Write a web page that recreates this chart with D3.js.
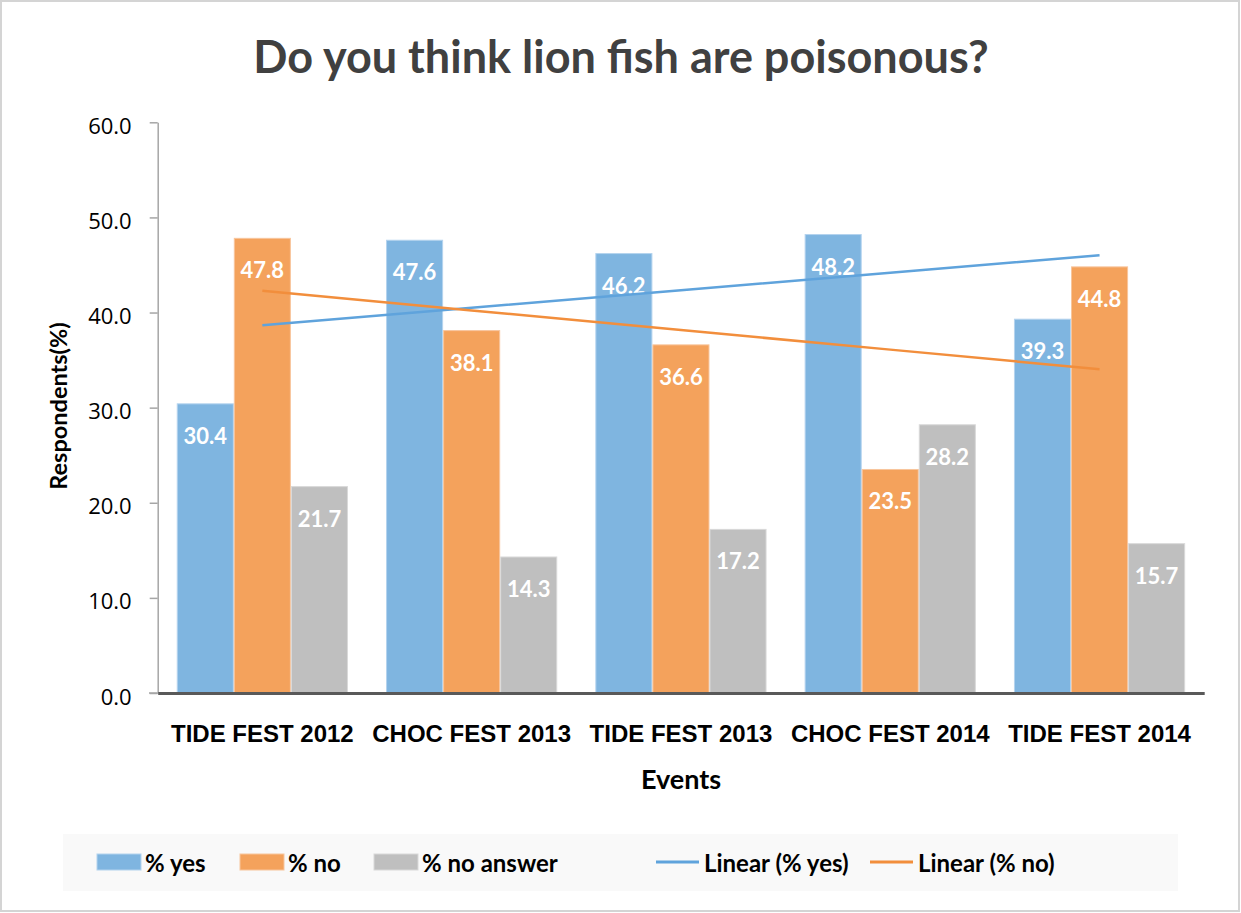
<!DOCTYPE html>
<html><head><meta charset="utf-8">
<script src="https://cdn.jsdelivr.net/npm/d3@7"></script>
<style>
html,body{margin:0;padding:0;background:#fff;}
svg{display:block;font-family:Lato,"Open Sans",sans-serif;}
</style></head>
<body>
<svg id="chart" width="1241" height="913"></svg>
<script>
const categories = ["TIDE FEST 2012","CHOC FEST 2013","TIDE FEST 2013","CHOC FEST 2014","TIDE FEST 2014"];
const yesValues = [30.4, 47.6, 46.2, 48.2, 39.3];
const noValues = [47.8, 38.1, 36.6, 23.5, 44.8];
const noAnswerValues = [21.7, 14.3, 17.2, 28.2, 15.7];
const seriesNames = ["% yes","% no","% no answer"];
const yTicks = [0,10,20,30,40,50,60];

const colors = {"% yes":"#7fb5e0","% no":"#f4a25c","% no answer":"#bfbfbf"};
const strokes = {"% yes":"#b4d3ee","% no":"#f8c59c","% no answer":"#d9d9d9"};
const trendColors = {"% yes":"#5fa3dc","% no":"#f28e3c"};

const svg = d3.select("#chart");
svg.append("rect").attr("x",1).attr("y",1).attr("width",1238).attr("height",910)
  .attr("fill","#fff").attr("stroke","#d4d4d4").attr("stroke-width",2);

const plotLeft=157.7, plotRight=1204.2, plotTop=122.3, plotBottom=693;
const x = d3.scaleBand().domain(categories).range([plotLeft,plotRight]).paddingInner(0.182).paddingOuter(0.091);
const xs = d3.scaleBand().domain(seriesNames).range([0,x.bandwidth()]).padding(0);
const y = d3.scaleLinear().domain([0,60]).range([plotBottom,plotTop]);

svg.append("text").attr("x",621).attr("y",73).attr("text-anchor","middle")
  .attr("font-size",45).attr("font-weight","bold").attr("fill","#404040")
  .text("Do you think lion fish are poisonous?");

const yAxis = d3.axisLeft(y).tickValues(yTicks).tickFormat(d3.format(".1f")).tickSize(8).tickSizeOuter(0);
const gy = svg.append("g").attr("transform",`translate(${plotLeft},0)`).call(yAxis);
gy.select(".domain").attr("stroke","#a6a6a6").attr("stroke-width",1.5);
gy.selectAll(".tick line").attr("stroke","#a6a6a6").attr("stroke-width",1.5);
gy.selectAll(".tick text").attr("font-size",22).attr("fill","#000").attr("x",-26).attr("dy","0.5em")
  .attr("font-family","'Open Sans',Lato,sans-serif");

const data = categories.map((c,i)=>({cat:c, vals:[
  {s:"% yes",v:yesValues[i]},{s:"% no",v:noValues[i]},{s:"% no answer",v:noAnswerValues[i]}]}));

const groups = svg.append("g").selectAll("g").data(data).join("g")
  .attr("transform",d=>`translate(${x(d.cat)},0)`);
groups.selectAll("rect").data(d=>d.vals).join("rect")
  .attr("x",d=>xs(d.s)+0.5).attr("width",xs.bandwidth()-1)
  .attr("y",d=>y(d.v)).attr("height",d=>y(0)-y(d.v))
  .attr("fill",d=>colors[d.s]).attr("stroke",d=>strokes[d.s]).attr("stroke-width",1);
groups.selectAll("text").data(d=>d.vals).join("text")
  .attr("x",d=>xs(d.s)+xs.bandwidth()/2).attr("y",d=>y(d.v)+40)
  .attr("text-anchor","middle").attr("font-size",22).attr("font-weight","bold").attr("fill","#fff")
  .text(d=>d3.format(".1f")(d.v));

const xAxis = d3.axisBottom(x).tickSize(0).tickSizeOuter(0);
const gx = svg.append("g").attr("transform",`translate(0,${plotBottom})`).call(xAxis);
gx.select(".domain").attr("stroke","#595959").attr("stroke-width",3);
gx.selectAll(".tick text").attr("font-size",24).attr("font-weight","bold").attr("fill","#000").attr("dy",0).attr("y",49);
svg.append("line").attr("x1",149).attr("x2",plotLeft).attr("y1",plotBottom).attr("y2",plotBottom).attr("stroke","#a6a6a6").attr("stroke-width",1.5);

function linFit(vals){
  const xsN=vals.map((_,i)=>i+1);
  const mx=d3.mean(xsN), my=d3.mean(vals);
  const b=d3.sum(xsN.map((xi,i)=>(xi-mx)*(vals[i]-my)))/d3.sum(xsN.map(xi=>(xi-mx)**2));
  return xsN.map(xi=>my+b*(xi-mx));
}
const line = d3.line().x((d,i)=>x(categories[i])+x.bandwidth()/2).y(d=>y(d));
[["% yes",yesValues],["% no",noValues]].forEach(([s,vals])=>{
  svg.append("path").attr("d",line(linFit(vals))).attr("fill","none")
    .attr("stroke",trendColors[s]).attr("stroke-width",2.5);
});

svg.append("text").attr("transform","translate(67,406) rotate(-90)").attr("text-anchor","middle")
  .attr("font-size",23.5).attr("font-weight","bold").attr("fill","#000").text("Respondents(%)");
svg.append("text").attr("x",681).attr("y",789).attr("text-anchor","middle")
  .attr("font-size",27).attr("font-weight","bold").attr("fill","#000").text("Events");

svg.append("rect").attr("x",63).attr("y",834).attr("width",1115).attr("height",57).attr("fill","#f9f9f9");
const legendItems = [
  {name:"% yes",type:"rect",x:97},
  {name:"% no",type:"rect",x:240},
  {name:"% no answer",type:"rect",x:374},
  {name:"Linear (% yes)",type:"line",x:656,key:"% yes"},
  {name:"Linear (% no)",type:"line",x:870,key:"% no"}
];
const lg = svg.append("g").selectAll("g").data(legendItems).join("g")
  .attr("transform",d=>`translate(${d.x},0)`);
lg.filter(d=>d.type==="rect").append("rect").attr("x",0).attr("y",854).attr("width",44).attr("height",16)
  .attr("fill",d=>colors[d.name]).attr("stroke",d=>strokes[d.name]).attr("stroke-width",1);
lg.filter(d=>d.type==="line").append("line").attr("x1",0).attr("x2",43).attr("y1",862).attr("y2",862)
  .attr("stroke",d=>trendColors[d.key]).attr("stroke-width",3);
lg.append("text").attr("x",48).attr("y",872).attr("font-size",24).attr("font-weight","bold").attr("fill","#000")
  .text(d=>d.name);
</script>
</body></html>
